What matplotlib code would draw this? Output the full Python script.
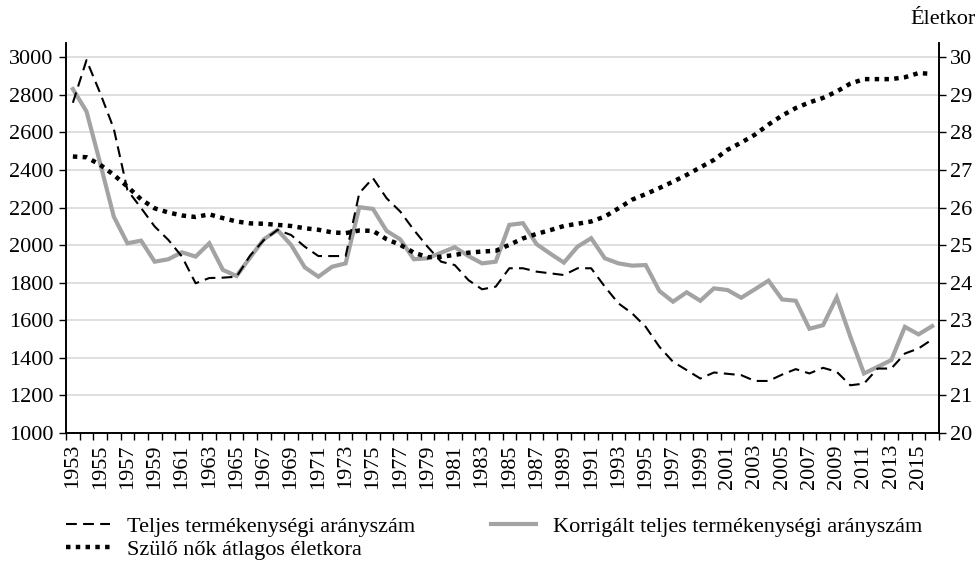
import matplotlib.pyplot as plt
import numpy as np

years = list(range(1953, 2017))

# Teljes termékenységi arányszám (per 1000 nő)
tfr = [2758, 2985, 2810, 2620, 2293, 2198, 2099, 2028, 1939, 1797,
       1825, 1827, 1832, 1945, 2027, 2081, 2054, 1992, 1942, 1942,
       1942, 2277, 2357, 2250, 2179, 2081, 1992, 1912, 1894, 1814,
       1765, 1779, 1877, 1877, 1859, 1850, 1841, 1877, 1877, 1779,
       1690, 1637, 1565, 1459, 1379, 1335, 1290, 1322, 1315, 1308,
       1277, 1277, 1311, 1340, 1317, 1347, 1326, 1254, 1263, 1343,
       1343, 1423, 1450, 1498]

# Korrigált teljes termékenységi arányszám
tfr_corr = [2831, 2712, 2437, 2152, 2010, 2024, 1912, 1925, 1962, 1939,
            2010, 1868, 1836, 1935, 2031, 2081, 2001, 1882, 1832, 1885,
            1903, 2202, 2193, 2076, 2031, 1925, 1930, 1960, 1989, 1942,
            1903, 1912, 2108, 2117, 2005, 1955, 1907, 1992, 2037, 1930,
            1903, 1891, 1894, 1756, 1699, 1749, 1704, 1770, 1761, 1720,
            1765, 1811, 1711, 1704, 1555, 1574, 1722, 1513, 1317, 1352,
            1388, 1565, 1525, 1569]

# Szülő nők átlagos életkora
age = [27.36, 27.34, 27.14, 26.87, 26.56, 26.22, 25.98, 25.87, 25.79, 25.75,
       25.82, 25.72, 25.63, 25.58, 25.57, 25.54, 25.51, 25.45, 25.41, 25.34,
       25.32, 25.39, 25.38, 25.16, 25.01, 24.80, 24.68, 24.69, 24.74, 24.80,
       24.83, 24.85, 25.01, 25.18, 25.30, 25.40, 25.51, 25.57, 25.63, 25.76,
       25.98, 26.21, 26.36, 26.52, 26.69, 26.87, 27.07, 27.27, 27.54, 27.73,
       27.94, 28.21, 28.45, 28.65, 28.80, 28.92, 29.09, 29.30, 29.42, 29.42,
       29.42, 29.47, 29.58, 29.56]

plt.rcParams['font.family'] = ['Liberation Serif', 'DejaVu Serif']
plt.rcParams['font.size'] = 16

fig = plt.figure(figsize=(9.77, 5.66), dpi=100)
ax = fig.add_axes([0.0676, 0.235, 0.8935, 0.6896])
ax2 = ax.twinx()

x = np.arange(len(years))

ax.plot(x, tfr_corr, color='#a3a3a3', lw=3, solid_joinstyle='miter',
        label='Korrigált teljes termékenységi arányszám', zorder=3)
ax.plot(x, tfr, color='black', lw=1.5, dashes=(5.2, 3),
        label='Teljes termékenységi arányszám', zorder=4)
ax2.plot(x, age, color='black', lw=3.2, dashes=(1, 1.2),
         label='Szülő nők átlagos életkora')

ax.set_xlim(-0.5, len(years) - 0.5)
ax.set_ylim(1000, 3078)
ax2.set_ylim(20, 30.39)

ax.set_yticks(range(1000, 3001, 200))
ax2.set_yticks(range(20, 31))
ax.yaxis.grid(True, color='#d9d9d9', lw=1.2)
ax.set_axisbelow(True)

# tick marks between categories, labels every second year
ax.set_xticks(np.arange(-0.5, len(years), 1))
ax.set_xticklabels([])
ax.set_xticks(x[::2], minor=True)
ax.set_xticklabels([str(y) for y in years[::2]], minor=True, rotation=90)
ax.tick_params(axis='x', which='major', length=5, width=1, direction='out')
ax.tick_params(axis='x', which='minor', length=0, pad=8)
ax.tick_params(axis='y', length=5, width=1, pad=4)
ax2.tick_params(axis='y', length=5, width=1, pad=3)

for a in (ax, ax2):
    a.spines['top'].set_visible(False)
    for s in ('left', 'right', 'bottom'):
        a.spines[s].set_linewidth(1.2)

fig.text(0.999, 0.965, 'Életkor', ha='right', va='center', fontsize=16)

h1, l1 = ax.get_legend_handles_labels()
h2, l2 = ax2.get_legend_handles_labels()
handles = [h1[1], h2[0], h1[0]]
labels = [l1[1], l2[0], l1[0]]
fig.legend(handles, labels, ncol=2, loc='lower left',
           bbox_to_anchor=(0.047, -0.025), frameon=False,
           handlelength=2.0, handletextpad=0.77, columnspacing=3.4,
           labelspacing=0.12)

plt.savefig('out.png', dpi=100)
